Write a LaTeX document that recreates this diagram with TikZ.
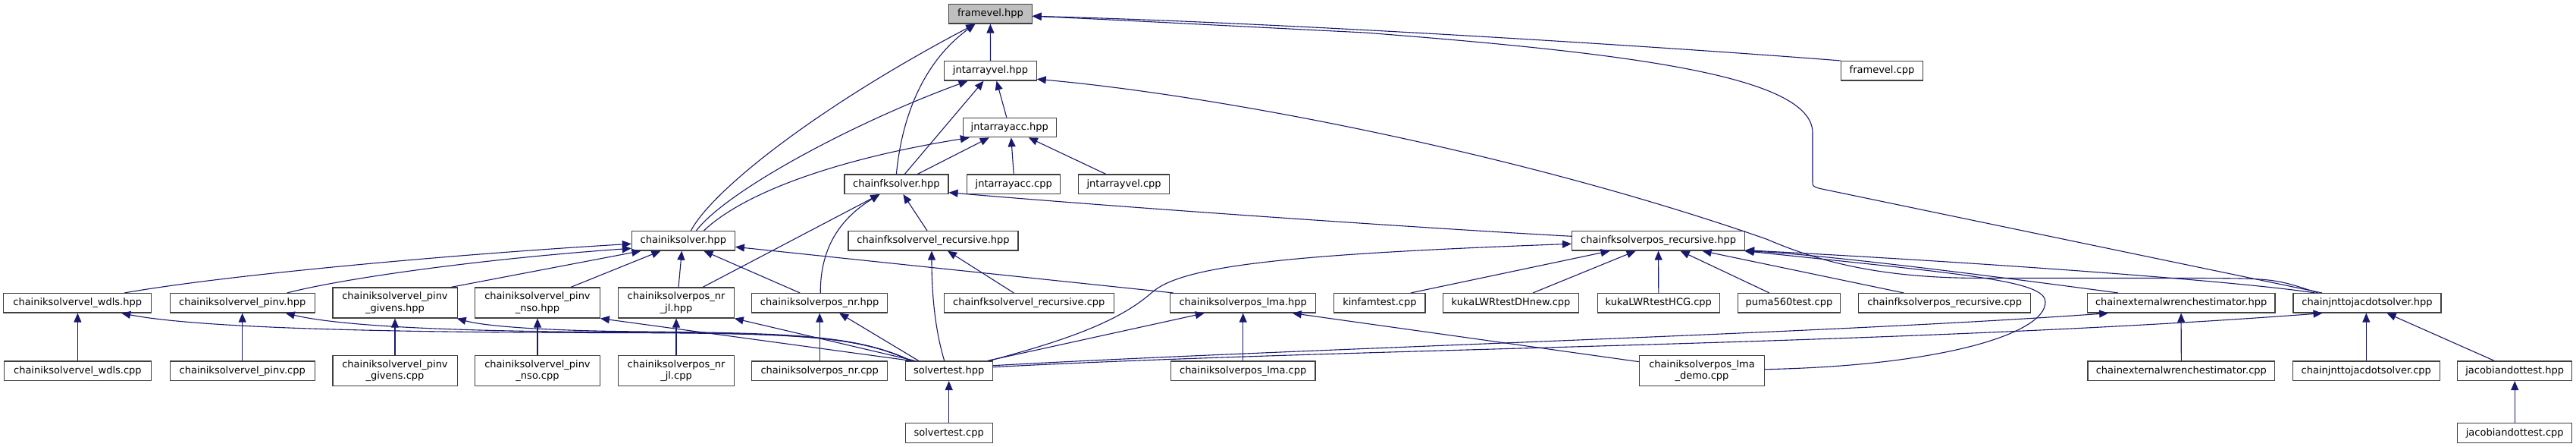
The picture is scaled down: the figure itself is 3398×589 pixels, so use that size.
\documentclass[tikz,border=0pt]{standalone}
\usepackage{fontspec}
\setmainfont{DejaVu Sans}
\usetikzlibrary{arrows.meta}
\definecolor{edgeblue}{HTML}{191970}
\definecolor{boxline}{HTML}{404040}
\definecolor{rootfill}{HTML}{BFBFBF}
\tikzset{
 box/.style={draw=boxline, line width=1.2pt, fill=white, inner sep=0pt, minimum height=25.5pt, align=center, font=\fontsize{13pt}{15.7pt}\selectfont, text=black},
 box2/.style={box, minimum height=40pt},
 e/.style={draw=edgeblue, line width=1.1pt, -{Triangle[length=12pt,width=10pt]}},
}
\begin{document}
\begin{tikzpicture}[x=1pt,y=-1pt]
\fill[white] (0,0) rectangle (3398,589);
\useasboundingbox (0,0) rectangle (3398,589);
% rows A-E
\node[box, fill=rootfill, minimum width=109.4pt] (fvh) at (1306.4,18.3) {framevel.hpp};
\node[box, minimum width=121.3pt] (javh) at (1306.5,93.3) {jntarrayvel.hpp};
\node[box, minimum width=108.3pt] (fvc) at (2482.5,93.3) {framevel.cpp};
\node[box, minimum width=122.8pt] (jaah) at (1331.8,168) {jntarrayacc.hpp};
\node[box, minimum width=137pt] (cfkh) at (1182.4,242.7) {chainfksolver.hpp};
\node[box, minimum width=122.8pt] (jaac) at (1337.2,242.7) {jntarrayacc.cpp};
\node[box, minimum width=120.5pt] (javc) at (1482.6,242.7) {jntarrayvel.cpp};
\node[box, minimum width=135.9pt] (cikh) at (901.4,317.3) {chainiksolver.hpp};
\node[box, minimum width=224pt] (cfkvrh) at (1231,317.3) {chainfksolvervel\_recursive.hpp};
\node[box, minimum width=228.1pt] (cfkprh) at (2187.6,317.3) {chainfksolverpos\_recursive.hpp};
% row F
\node[box, minimum width=195.1pt] (wdlsh) at (102.2,399.3) {chainiksolvervel\_wdls.hpp};
\node[box, minimum width=191pt] (pinvh) at (319.7,399.3) {chainiksolvervel\_pinv.hpp};
\node[box2, minimum width=164.2pt] (givh) at (521,399) {chainiksolvervel\_pinv\\\_givens.hpp};
\node[box2, minimum width=164.5pt] (nsoh) at (709,399) {chainiksolvervel\_pinv\\\_nso.hpp};
\node[box2, minimum width=152.3pt] (nrjlh) at (892,399) {chainiksolverpos\_nr\\\_jl.hpp};
\node[box, minimum width=178.7pt] (nrh) at (1081.2,399.3) {chainiksolverpos\_nr.hpp};
\node[box, minimum width=224.2pt] (cfkvrc) at (1357.3,399.3) {chainfksolvervel\_recursive.cpp};
\node[box, minimum width=192.1pt] (lmah) at (1639.7,399.3) {chainiksolverpos\_lma.hpp};
\node[box, minimum width=120.2pt] (kinc) at (1819.9,399.3) {kinfamtest.cpp};
\node[box, minimum width=178.7pt] (dhc) at (1993,399.3) {kukaLWRtestDHnew.cpp};
\node[box, minimum width=161.1pt] (hcgc) at (2187.8,399.3) {kukaLWRtestHCG.cpp};
\node[box, minimum width=134.7pt] (pumac) at (2359.9,399.3) {puma560test.cpp};
\node[box, minimum width=226.9pt] (cfkprc) at (2565.2,399.3) {chainfksolverpos\_recursive.cpp};
\node[box, minimum width=247.8pt] (cewh) at (2877.1,399.3) {chainexternalwrenchestimator.hpp};
\node[box, minimum width=195pt] (cjdh) at (3122.5,399.3) {chainjnttojacdotsolver.hpp};
% row G
\node[box, minimum width=194pt] (wdlsc) at (102.4,488.7) {chainiksolvervel\_wdls.cpp};
\node[box, minimum width=191pt] (pinvc) at (319.7,488.7) {chainiksolvervel\_pinv.cpp};
\node[box2, minimum width=164.2pt] (givc) at (521,488.7) {chainiksolvervel\_pinv\\\_givens.cpp};
\node[box2, minimum width=164.5pt] (nsoc) at (709,488.7) {chainiksolvervel\_pinv\\\_nso.cpp};
\node[box2, minimum width=152.3pt] (nrjlc) at (892,488.7) {chainiksolverpos\_nr\\\_jl.cpp};
\node[box, minimum width=178.7pt] (nrc) at (1081.2,488.7) {chainiksolverpos\_nr.cpp};
\node[box, minimum width=114.8pt] (sth) at (1251.7,488.7) {solvertest.hpp};
\node[box, minimum width=190.6pt] (lmac) at (1639.7,488.7) {chainiksolverpos\_lma.cpp};
\node[box2, minimum width=164.5pt] (democ) at (2245,488.7) {chainiksolverpos\_lma\\\_demo.cpp};
\node[box, minimum width=246.7pt] (cewc) at (2877.3,488.7) {chainexternalwrenchestimator.cpp};
\node[box, minimum width=194pt] (cjdc) at (3121.3,488.7) {chainjnttojacdotsolver.cpp};
\node[box, minimum width=151pt] (jdth) at (3317.2,488.7) {jacobiandottest.hpp};
% row H
\node[box, minimum width=114.8pt] (stc) at (1251.7,570.5) {solvertest.cpp};
\node[box, minimum width=151pt] (jdtc) at (3317.2,570.5) {jacobiandottest.cpp};

% edges into framevel.hpp
\draw[e] (javh.north) -- (fvh.south);
\draw[e] ([xshift=10pt]cikh.north) .. controls (940,250) and (1080,140) .. ([xshift=-20pt]fvh.south);
\draw[e] (cfkh.north) .. controls (1190,150) and (1220,80) .. ([xshift=-20pt]fvh.south);
\draw[e] (fvc.north west) .. controls (2200,62) and (1700,30) .. ([yshift=-3pt]fvh.east);
\draw[e] ([xshift=-59.5pt]cjdh.north) -- (2400,248.3) .. controls (2391,245.5) .. (2391,238) -- (2391,175) .. controls (2391,100) and (2150,70) .. (1800,43) .. controls (1600,33) and (1450,25) .. ([yshift=-3pt]fvh.east);
% into jntarrayvel.hpp
\draw[e] ([xshift=17pt]cikh.north) .. controls (960,250) and (1130,160) .. ([xshift=-30pt]javh.south);
\draw[e] ([xshift=11pt]cfkh.north) -- ([xshift=-9pt]javh.south);
\draw[e] ([xshift=-4pt]jaah.north) -- ([xshift=8pt]javh.south);
\draw[e] ([xshift=-65pt]cjdh.north) .. controls (3000,367) .. (2900,366.5) -- (2614,366.5) .. controls (2480,366.5) and (2400,345) .. (2330,315) .. controls (2000,200) and (1600,125) .. ([yshift=-11pt]javh.east);
% into jntarrayacc.hpp
\draw[e] ([xshift=27pt]cikh.north) .. controls (980,255) and (1100,210) .. ([xshift=-53pt]jaah.south);
\draw[e] ([xshift=28pt]cfkh.north) -- ([xshift=-27pt]jaah.south);
\draw[e] (jaac.north) -- ([xshift=2pt]jaah.south);
\draw[e] ([xshift=-24pt]javc.north) -- ([xshift=25pt]jaah.south);
% into chainfksolver.hpp
\draw[e] ([xshift=35pt]nrjlh.north) -- ([xshift=-22pt]cfkh.south);
\draw[e] ([xshift=1pt]nrh.north) .. controls (1082,330) and (1105,290) .. ([xshift=-22pt]cfkh.south);
\draw[e] ([xshift=-8pt]cfkvrh.north) -- ([xshift=9pt]cfkh.south);
\draw[e] ([yshift=6pt]cfkprh.west) .. controls (1900,302) and (1500,275) .. ([yshift=-11pt]cfkh.east);
% into chainiksolver.hpp
\draw[e] ([xshift=62pt]wdlsh.north) .. controls (300,362) and (600,335) .. ([yshift=-4pt]cikh.west);
\draw[e] ([xshift=59pt]pinvh.north) .. controls (460,365) and (650,340) .. ([yshift=-10pt]cikh.west);
\draw[e] ([xshift=74pt]givh.north) -- ([xshift=-56pt]cikh.south);
\draw[e] ([xshift=44pt]nsoh.north) -- ([xshift=-30pt]cikh.south);
\draw[e] ([xshift=3pt]nrjlh.north) -- ([xshift=-2pt]cikh.south);
\draw[e] ([xshift=-26pt]nrh.north) -- ([xshift=27pt]cikh.south);
\draw[e] ([xshift=-92pt]lmah.north) -- ([yshift=-8pt]cikh.east);
% from solvertest.hpp
\draw[e] ([xshift=-50pt]sth.north) .. controls (1130,442) and (1050,439) .. (800,438.5) .. controls (500,438) and (260,432) .. ([xshift=58pt]wdlsh.south);
\draw[e] ([xshift=-50pt]sth.north) .. controls (1130,442) and (1050,439) .. (800,437.5) .. controls (600,436.5) and (450,430) .. ([xshift=57pt]pinvh.south);
\draw[e] ([xshift=-50pt]sth.north) .. controls (1130,442) and (1050,439) .. (850,437) .. controls (720,436) and (640,430) .. ([xshift=-1pt]givh.south east);
\draw[e] ([xshift=-50pt]sth.north) -- (nsoh.south east);
\draw[e] ([xshift=-45pt]sth.north) -- (nrjlh.south east);
\draw[e] ([xshift=-40pt]sth.north) -- ([xshift=26pt]nrh.south);
\draw[e] ([xshift=-6pt]sth.north) .. controls (1232,430) and (1229,380) .. ([xshift=-2pt]cfkvrh.south);
\draw[e] ([xshift=51pt]sth.north) -- ([xshift=-51pt]lmah.south);
\draw[e] ([xshift=53pt]sth.north) .. controls (1420,445) and (1480,420) .. (1520,385) .. controls (1560,350) and (1700,335) .. ([yshift=-4pt]cfkprh.west);
\draw[e] ([yshift=7pt]sth.east) .. controls (1700,460) and (2400,440) .. ([xshift=-96pt]cewh.south);
\draw[e] ([yshift=5pt]sth.east) .. controls (1800,458) and (2500,455) .. ([xshift=-59pt]cjdh.south);
\draw[e] (stc.north) -- (sth.south);
% lma demo
\draw[e] ([yshift=12pt]democ.west) -- ([xshift=65pt]lmah.south);
\draw[e] ([yshift=2pt]democ.east) .. controls (2560,482) and (2698,440) .. (2698,398) .. controls (2698,370) and (2600,362) .. ([xshift=-1pt]cfkprh.south east);
% into chainfksolverpos_recursive.hpp
\draw[e] ([xshift=-54pt]cfkprc.north) -- ([xshift=58pt]cfkprh.south);
\draw[e] ([xshift=-26pt]pumac.north) -- ([xshift=29pt]cfkprh.south);
\draw[e] (hcgc.north) -- (cfkprh.south);
\draw[e] ([xshift=29pt]dhc.north) -- ([xshift=-30pt]cfkprh.south);
\draw[e] ([xshift=41pt]kinc.north) -- ([xshift=-64pt]cfkprh.south);
\draw[e] ([xshift=-83pt]cewh.north) .. controls (2600,360) and (2400,335) .. ([xshift=-1pt]cfkprh.south east);
\draw[e] ([xshift=-69pt]cjdh.north) .. controls (2950,370) and (2600,345) .. ([yshift=1pt]cfkprh.south east);
% verticals and others
\draw[e] (cewc.north) -- (cewh.south);
\draw[e] (cjdc.north) -- (cjdc.north |- cjdh.south);
\draw[e] ([xshift=-27pt]jdth.north) -- ([xshift=26pt]cjdh.south);
\draw[e] (jdtc.north) -- (jdth.south);
\draw[e] (lmac.north) -- (lmah.south);
\draw[e] ([xshift=-20pt]cfkvrc.north) -- ([xshift=19pt]cfkvrh.south);
\draw[e] (wdlsc.north) -- (wdlsc.north |- wdlsh.south);
\draw[e] (pinvc.north) -- (pinvh.south);
\draw[e] (givc.north) -- (givh.south);
\draw[e] (nsoc.north) -- (nsoh.south);
\draw[e] (nrjlc.north) -- (nrjlh.south);
\draw[e] (nrc.north) -- (nrh.south);
\end{tikzpicture}
\end{document}
